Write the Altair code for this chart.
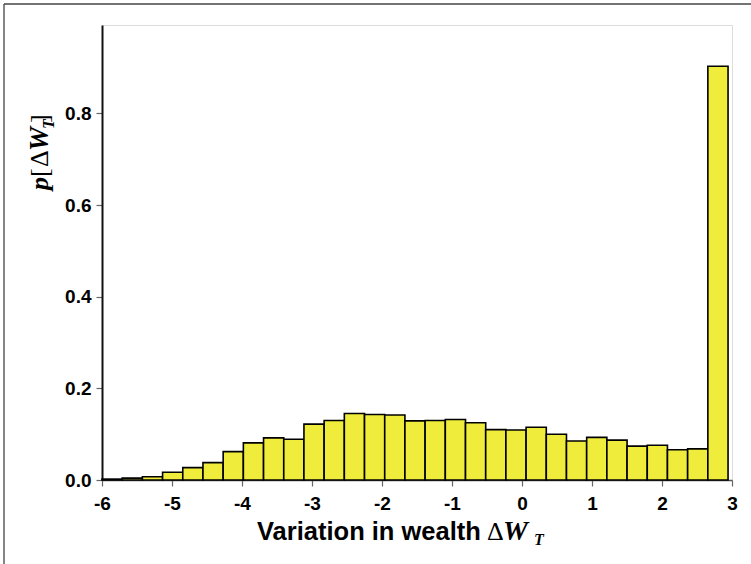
import altair as alt
import pandas as pd

# Histogram of the wealth variation: left edge of the first bin, bin width, and
# the probability in each of the 31 bins.
bin_start = -6.0
bin_width = 0.2885
probabilities = [
    0.002, 0.004, 0.007, 0.017, 0.027, 0.038, 0.062, 0.081, 0.092, 0.089,
    0.122, 0.130, 0.145, 0.143, 0.142, 0.129, 0.130, 0.132, 0.125, 0.110,
    0.109, 0.115, 0.100, 0.085, 0.093, 0.087, 0.074, 0.076, 0.066, 0.068,
    0.903,
]
x_ticks = [-6, -5, -4, -3, -2, -1, 0, 1, 2, 3]
y_ticks = [0.0, 0.2, 0.4, 0.6, 0.8]

bars = pd.DataFrame({
    "left": [bin_start + i * bin_width for i in range(len(probabilities))],
    "right": [bin_start + (i + 1) * bin_width for i in range(len(probabilities))],
    "p": probabilities,
})
one_row = pd.DataFrame({"k": [0]})

W, H = 630, 455
SANS = "Liberation Sans"
SERIF = "Liberation Serif"

x_scale = alt.Scale(domain=[-6, 3], nice=False, zero=False)
y_scale = alt.Scale(domain=[0, 0.993], nice=False)

# plain hyphen for negative tick labels
x_label_expr = "datum.value < 0 ? '-' + abs(datum.value) : '' + datum.value"

hist = alt.Chart(bars).mark_rect(
    fill="#F0EC3C", stroke="#000000", strokeWidth=1.6
).encode(
    x=alt.X("left:Q", scale=x_scale,
            axis=alt.Axis(values=x_ticks, labelExpr=x_label_expr, title=None,
                          domainColor="#555555", domainWidth=1.5,
                          tickColor="#666666", tickSize=6, tickWidth=1.2,
                          labelPadding=8, labelFont=SANS, labelFontSize=19,
                          labelFontWeight="bold", labelColor="#000000",
                          grid=False, labelFlush=False)),
    x2="right:Q",
    y=alt.Y("p:Q", scale=y_scale,
            axis=alt.Axis(values=y_ticks, format=".1f", title=None,
                          domainColor="#111111", domainWidth=2,
                          tickColor="#666666", tickSize=6, tickWidth=1.2,
                          labelPadding=5, labelFont=SANS, labelFontSize=19,
                          labelFontWeight="bold", labelColor="#000000",
                          grid=False, labelFlush=False)),
    y2=alt.datum(0),
)


def label(text, x, y, size, font, weight="normal", style="normal",
          align="left", angle=0):
    kw = dict(text=text, font=font, fontSize=size, fontWeight=weight,
              fontStyle=style, align=align, baseline="alphabetic",
              color="#000000")
    if angle:
        kw["angle"] = angle
    return alt.Chart(one_row).mark_text(**kw).encode(
        x=alt.value(x), y=alt.value(y))


# x-axis title: "Variation in wealth ΔW_T"
x_title = [
    label("Variation in wealth", 155, 515, 25.5, SANS, weight="bold"),
    label("Δ", 385, 515, 26, SERIF),
    label("W", 401, 515, 28, SERIF, weight="bold", style="italic"),
    label("T", 432, 520, 16, SERIF, weight="bold", style="italic"),
]

# y-axis title: "p[ΔW_T]" written bottom to top
y_title = [
    label("p", -54, 165, 26, SERIF, weight="bold", style="italic", angle=270),
    label("[", -54, 152, 26, SERIF, angle=270),
    label("Δ", -54, 142, 26, SERIF, angle=270),
    label("W", -54, 126, 27, SERIF, weight="bold", style="italic", angle=270),
    label("T", -48, 104, 16, SERIF, weight="bold", style="italic", angle=270),
    label("]", -54, 98, 26, SERIF, angle=270),
]

# thin frame along the top and left edges of the figure
frame_top = alt.Chart(one_row).mark_rule(color="#444444", strokeWidth=1.3).encode(
    x=alt.value(-98), x2=alt.value(650), y=alt.value(-21))
frame_left = alt.Chart(one_row).mark_rule(color="#444444", strokeWidth=1.3).encode(
    x=alt.value(-98), y=alt.value(-21), y2=alt.value(540))

chart = alt.layer(hist, *x_title, *y_title, frame_top, frame_left).properties(
    width=W, height=H,
    autosize=alt.AutoSizeParams(type="none"),
    padding={"left": 102, "top": 25, "right": 19, "bottom": 84},
).configure_view(stroke=None).configure(background="#ffffff")

chart.save("out.html", embed_options={"renderer": "svg", "actions": False})
